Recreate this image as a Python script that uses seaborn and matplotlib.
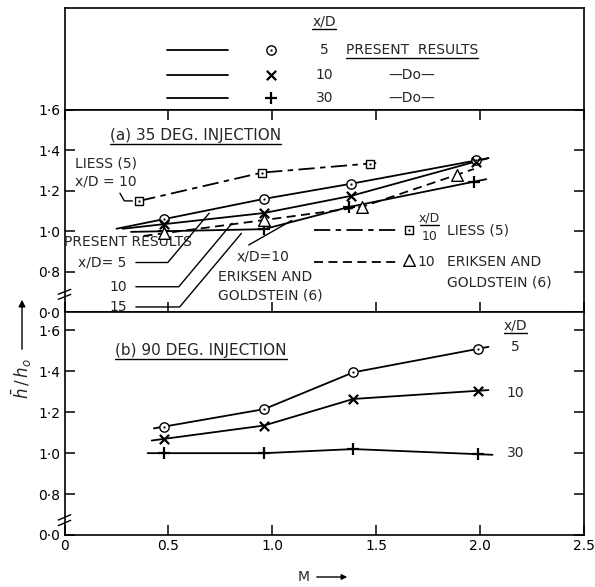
import numpy as np
import matplotlib
matplotlib.use('Agg')
import matplotlib.pyplot as plt
from matplotlib.lines import Line2D
import seaborn as sns

# ---- data ----
# (a) 35 deg injection, present results
m_a = [0.48, 0.96, 1.38, 1.98]
a_xd5 = [1.06, 1.16, 1.235, 1.35]
a_xd10 = [1.035, 1.09, 1.175, 1.345]
m_a15 = [0.48, 0.96, 1.37, 1.97]
a_xd15 = [1.00, 1.01, 1.12, 1.245]
# Liess (5), x/D = 10
liess_m = [0.36, 0.95, 1.47]
liess_h = [1.15, 1.29, 1.335]
# Eriksen and Goldstein (6), x/D = 10
eriksen_m = [0.48, 0.96, 1.43, 1.89]
eriksen_h = [0.99, 1.055, 1.12, 1.28]

# (b) 90 deg injection
m_b = [0.48, 0.96, 1.39, 1.99]
b_xd5 = [1.13, 1.215, 1.395, 1.51]
b_xd10 = [1.07, 1.135, 1.265, 1.305]
b_xd30 = [1.00, 1.00, 1.02, 0.995]

x_ticks = [0, 0.5, 1.0, 1.5, 2.0, 2.5]
x_ticklabels = ['0', '0.5', '1.0', '1.5', '2.0', '2.5']
y_ticks = [0.6, 0.8, 1.0, 1.2, 1.4, 1.6]
y_ticklabels = ['0·0', '0·8', '1·0', '1·2', '1·4', '1·6']

sns.set_style('ticks')
plt.rcParams['font.family'] = ['DejaVu Sans']
plt.rcParams['axes.linewidth'] = 1.2

W, H = 595, 587
fig = plt.figure(figsize=(W / 100, H / 100), dpi=100)


def box(l, t, r, b):
    # pixel box -> figure fraction
    return [l / W, 1 - b / H, (r - l) / W, (b - t) / H]


ax_leg = fig.add_axes(box(64.5, 8, 584, 110))
ax_a = fig.add_axes(box(64.5, 110, 584, 312))
ax_b = fig.add_axes(box(64.5, 312, 584, 535))

LW = 1.3
FS = 10


def extend(x, y, lo, hi):
    x = np.asarray(x, float)
    y = np.asarray(y, float)
    s0 = (y[1] - y[0]) / (x[1] - x[0])
    s1 = (y[-1] - y[-2]) / (x[-1] - x[-2])
    return (np.r_[x[0] - lo, x, x[-1] + hi],
            np.r_[y[0] - s0 * lo, y, y[-1] + s1 * hi])


def curve(ax, x, y, lo=0.05, hi=0.05, ls='-'):
    xe, ye = extend(x, y, lo, hi)
    sns.lineplot(x=xe, y=ye, ax=ax, color='k', lw=LW, sort=False,
                 estimator=None, linestyle=ls)


def marks(ax, x, y, kind):
    if kind == 'circle':
        sns.scatterplot(x=x, y=y, ax=ax, marker='o', s=45, facecolor='white',
                        edgecolor='k', linewidth=1, zorder=4)
        sns.scatterplot(x=x, y=y, ax=ax, marker='o', s=3, color='k', zorder=5)
    elif kind == 'square':
        sns.scatterplot(x=x, y=y, ax=ax, marker='s', s=40, facecolor='white',
                        edgecolor='k', linewidth=1, zorder=4)
        sns.scatterplot(x=x, y=y, ax=ax, marker='o', s=3, color='k', zorder=5)
    elif kind == 'tri':
        sns.scatterplot(x=x, y=y, ax=ax, marker='^', s=70, facecolor='white',
                        edgecolor='k', linewidth=1, zorder=4)
    elif kind == 'x':
        sns.scatterplot(x=x, y=y, ax=ax, marker='x', s=45, color='k',
                        linewidth=1.6, zorder=4)
    else:
        sns.scatterplot(x=x, y=y, ax=ax, marker='+', s=80, color='k',
                        linewidth=1.6, zorder=4)


LIESS_LS = (0, (9, 3, 3, 3))
ERIK_LS = (0, (5, 3))

# ---- panel (a) ----
curve(ax_a, m_a, a_xd5, lo=0.23, hi=0.06)
curve(ax_a, m_a, a_xd10, lo=0.2, hi=0.06)
curve(ax_a, m_a15, a_xd15, lo=0.16, hi=0.06)
curve(ax_a, liess_m, liess_h, lo=0.0, hi=0.03, ls=LIESS_LS)
curve(ax_a, eriksen_m, eriksen_h, lo=0.1, hi=0.08, ls=ERIK_LS)
marks(ax_a, m_a, a_xd5, 'circle')
marks(ax_a, m_a, a_xd10, 'x')
marks(ax_a, m_a15, a_xd15, 'plus')
marks(ax_a, liess_m, liess_h, 'square')
marks(ax_a, eriksen_m, eriksen_h, 'tri')

# ---- panel (b) ----
curve(ax_b, m_b, b_xd5, lo=0.05, hi=0.05)
curve(ax_b, m_b, b_xd10, lo=0.06, hi=0.05)
curve(ax_b, m_b, b_xd30, lo=0.08, hi=0.07)
marks(ax_b, m_b, b_xd5, 'circle')
marks(ax_b, m_b, b_xd10, 'x')
marks(ax_b, m_b, b_xd30, 'plus')

for ax, top in ((ax_a, 1.6), (ax_b, 1.69)):
    ax.set_xlim(0, 2.5)
    ax.set_ylim(0.6, top)
    ax.set_yticks(y_ticks)
    ax.set_yticklabels(y_ticklabels, fontsize=FS)
    ax.set_xticks(x_ticks)
    ax.tick_params(direction='in', length=7, width=1.1, top=True, right=True,
                   colors='k', pad=3)
    ax.set_xlabel('')
    ax.set_ylabel('')
    for s in ax.spines.values():
        s.set_visible(True)
        s.set_color('k')
ax_a.tick_params(labelbottom=False)
ax_b.tick_params(top=False)
ax_b.set_xticklabels(x_ticklabels, fontsize=FS)

# axis break marks on the left spine
for ax, yb in ((ax_a, 0.075), (ax_b, 0.054)):
    for dy in (0.0, 0.025):
        ax.plot([-0.012, 0.012], [yb + dy - 0.012, yb + dy + 0.012],
                transform=ax.transAxes, color='k', lw=1, clip_on=False)

# ---- legend block on top ----
ax_leg.set_xlim(0, 1)
ax_leg.set_ylim(0, 1)
ax_leg.set_xticks([])
ax_leg.set_yticks([])
for s in ax_leg.spines.values():
    s.set_visible(True)
    s.set_color('k')

leg_rows = [('circle', '5', 'PRESENT  RESULTS'), ('x', '10', '—Do—'),
            ('plus', '30', '—Do—')]
under = []
hdr = ax_leg.text(0.5, 0.87, 'x/D', ha='center', va='center', fontsize=FS)
under.append(hdr)
for (kind, num, lab), yy in zip(leg_rows, [0.59, 0.345, 0.12]):
    ax_leg.plot([0.197, 0.315], [yy, yy], color='k', lw=LW)
    marks(ax_leg, [0.397], [yy], kind)
    ax_leg.text(0.5, yy, num, ha='center', va='center', fontsize=FS)
    t = ax_leg.text(0.669, yy, lab, ha='center', va='center', fontsize=FS)
    if kind == 'circle':
        under.append(t)

# ---- panel (a) annotations ----
ta = ax_a.text(0.22, 1.475, '(a) 35 DEG. INJECTION', ha='left', va='center',
               fontsize=FS + 1)
under.append(ta)
ax_a.text(0.05, 1.335, 'LIESS (5)', ha='left', va='center', fontsize=FS)
ax_a.text(0.05, 1.245, 'x/D = 10', ha='left', va='center', fontsize=FS)
ax_a.annotate('', xy=(liess_m[0] - 0.02, liess_h[0]), xytext=(0.26, 1.2),
              arrowprops=dict(arrowstyle='-', color='k', lw=1,
                              connectionstyle='angle,angleA=-60,angleB=0,rad=0'))

ax_a.text(0.0, 0.945, 'PRESENT RESULTS', ha='left', va='center', fontsize=FS)
for lab, yy, tip in (('x/D= 5', 0.845, (0.705, 1.1)),
                     ('10', 0.725, (0.815, 1.05)),
                     ('15', 0.625, (0.86, 1.0))):
    ax_a.text(0.30, yy, lab, ha='right', va='center', fontsize=FS)
    ax_a.annotate('', xy=tip, xytext=(0.33, yy),
                  arrowprops=dict(arrowstyle='-', color='k', lw=1,
                                  connectionstyle='angle,angleA=0,angleB=50,rad=0'))

ax_a.text(0.83, 0.875, 'x/D=10', ha='left', va='center', fontsize=FS)
ax_a.text(0.74, 0.775, 'ERIKSEN AND', ha='left', va='center', fontsize=FS)
ax_a.text(0.74, 0.68, 'GOLDSTEIN (6)', ha='left', va='center', fontsize=FS)
ax_a.annotate('', xy=(1.105, 1.06), xytext=(0.875, 0.925),
              arrowprops=dict(arrowstyle='-', color='k', lw=1))

# key inside panel (a)
ax_a.plot([1.2, 1.612], [1.005, 1.005], color='k', lw=LW, linestyle=LIESS_LS)
marks(ax_a, [1.656], [1.005], 'square')
ax_a.text(1.755, 1.065, 'x/D', ha='center', va='center', fontsize=FS - 1)
ax_a.plot([1.71, 1.80], [1.03, 1.03], color='k', lw=1)
ax_a.text(1.755, 0.975, '10', ha='center', va='center', fontsize=FS - 1)
ax_a.text(1.84, 1.005, 'LIESS (5)', ha='left', va='center', fontsize=FS)
ax_a.plot([1.2, 1.612], [0.85, 0.85], color='k', lw=LW, linestyle=ERIK_LS)
marks(ax_a, [1.656], [0.855], 'tri')
ax_a.text(1.70, 0.85, '10', ha='left', va='center', fontsize=FS)
ax_a.text(1.84, 0.85, 'ERIKSEN AND', ha='left', va='center', fontsize=FS)
ax_a.text(1.84, 0.745, 'GOLDSTEIN (6)', ha='left', va='center', fontsize=FS)

# ---- panel (b) annotations ----
tb = ax_b.text(0.245, 1.50, '(b) 90 DEG. INJECTION', ha='left', va='center',
               fontsize=FS + 1)
under.append(tb)
th = ax_b.text(2.17, 1.625, 'x/D', ha='center', va='center', fontsize=FS)
under.append(th)
for lab, yy in (('5', 1.517), ('10', 1.295), ('30', 1.0)):
    ax_b.text(2.17, yy, lab, ha='center', va='center', fontsize=FS)

# axis titles
fig.text(22 / W, 1 - 379 / H, r'$\bar{h}\,/\,h_o$', rotation=90, ha='center',
         va='center', fontsize=12)
fig.add_artist(matplotlib.patches.FancyArrowPatch(
    (22 / W, 1 - 352 / H), (22 / W, 1 - 297 / H), transform=fig.transFigure,
    arrowstyle='-|>', mutation_scale=10, color='k', lw=1))
fig.text(304 / W, 1 - 577 / H, 'M', ha='center', va='center', fontsize=FS)
fig.add_artist(matplotlib.patches.FancyArrowPatch(
    (314 / W, 1 - 577 / H), (350 / W, 1 - 577 / H), transform=fig.transFigure,
    arrowstyle='-|>', mutation_scale=8, color='k', lw=1))

# underlines
r = fig.canvas.get_renderer()
inv = fig.transFigure.inverted()
for t in under:
    bb = t.get_window_extent(renderer=r)
    (x0, y0), (x1, _) = inv.transform([(bb.x0, bb.y0 - 1), (bb.x1, bb.y0)])
    fig.add_artist(Line2D([x0, x1], [y0, y0], transform=fig.transFigure,
                          color='k', lw=1))

fig.savefig('out.png', dpi=100)
